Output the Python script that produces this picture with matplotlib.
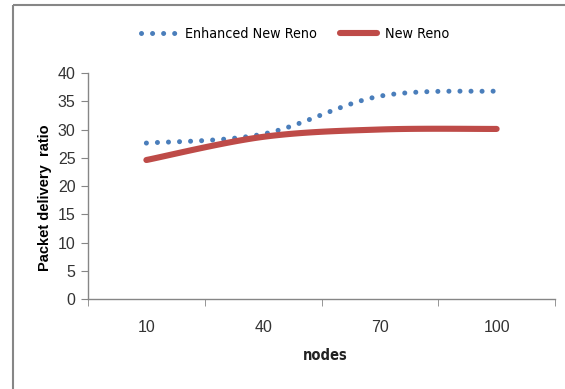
import numpy as np
import matplotlib.pyplot as plt
from matplotlib.lines import Line2D

nodes = ['10', '40', '70', '100']
enhanced = [27.6, 29.2, 35.9, 36.8]
new_reno = [24.6, 28.7, 30.0, 30.1]
y_ticks = [0, 5, 10, 15, 20, 25, 30, 35, 40]

blue = '#4A7EBB'
red = '#BE4B48'
grey = '#868686'


def smooth(xs, ys, n=40):
    # piecewise cubic bezier through every point, like a spreadsheet "smoothed line"
    xs = np.asarray(xs, float)
    ys = np.asarray(ys, float)
    px = np.concatenate([[xs[0]], xs, [xs[-1]]])
    py = np.concatenate([[ys[0]], ys, [ys[-1]]])
    out_x, out_y = [], []
    t = np.linspace(0, 1, n)
    for i in range(1, len(px) - 2):
        p0 = np.array([px[i], py[i]])
        p3 = np.array([px[i + 1], py[i + 1]])
        p1 = p0 + (np.array([px[i + 1], py[i + 1]]) - np.array([px[i - 1], py[i - 1]])) / 6
        p2 = p3 - (np.array([px[i + 2], py[i + 2]]) - np.array([px[i], py[i]])) / 6
        b = ((1 - t) ** 3)[:, None] * p0 + (3 * (1 - t) ** 2 * t)[:, None] * p1 \
            + (3 * (1 - t) * t ** 2)[:, None] * p2 + (t ** 3)[:, None] * p3
        out_x.extend(b[:, 0])
        out_y.extend(b[:, 1])
    return out_x, out_y


narrow_prop = dict(family='DejaVu Sans', stretch='condensed')
plain = ['Liberation Sans', 'DejaVu Sans']

fig = plt.figure(figsize=(5.65, 3.89), dpi=100)
ax = fig.add_axes([88 / 565, 1 - 299 / 389, (555 - 88) / 565, (299 - 73) / 389])

x = np.arange(len(nodes))
bx, by = smooth(x, enhanced)
rx, ry = smooth(x, new_reno)
dots = (0, (0.01, 2.2))
ax.plot(bx, by, color=blue, lw=3.6, linestyle=dots,
        dash_capstyle='round', solid_capstyle='round')
ax.plot(rx, ry, color=red, lw=4.4, solid_capstyle='round')

ax.set_xlim(-0.5, len(nodes) - 0.5)
ax.set_ylim(0, 40)
ax.set_yticks(y_ticks)
ax.set_xticks(x)
ax.set_xticklabels(nodes, family=plain, fontsize=11.5, color='#333333')
ax.set_xticks(np.arange(len(nodes) + 1) - 0.5, minor=True)
ax.tick_params(axis='x', which='major', length=0, pad=15)
ax.tick_params(axis='x', which='minor', length=5, color=grey, direction='out')
ax.tick_params(axis='y', length=5, color=grey, direction='out', pad=4)
for lab in ax.get_yticklabels():
    lab.set_family(plain)
    lab.set_fontsize(11.5)
    lab.set_color('#333333')

for s in ['top', 'right']:
    ax.spines[s].set_visible(False)
for s in ['left', 'bottom']:
    ax.spines[s].set_color(grey)
    ax.spines[s].set_linewidth(1)

fig.text(45 / 565, 1 - 198 / 389, 'Packet delivery  ratio', rotation=90,
         ha='center', va='center', fontsize=10.5, fontweight='bold', family=plain)
fig.text(325 / 565, 1 - 355 / 389, 'nodes', ha='center', va='center',
         fontsize=10.5, fontweight='bold', color='#222222', **narrow_prop)

handles = [
    Line2D([], [], color=blue, lw=3.6, linestyle=dots, dash_capstyle='round'),
    Line2D([], [], color=red, lw=4.4, solid_capstyle='round'),
]
leg = fig.legend(handles, ['Enhanced New Reno', 'New Reno'], loc='center',
                 bbox_to_anchor=(295 / 565, 1 - 34 / 389), ncol=2, frameon=False,
                 handlelength=2.6, handletextpad=0.5, columnspacing=1.6,
                 prop=dict(size=10.3, **narrow_prop))

# outer chart border (only top and left edges fall inside the frame)
fig.add_artist(Line2D([13 / 565, 13 / 565], [0, 1 - 5 / 389], color=grey, lw=1.5,
                      solid_capstyle='butt', transform=fig.transFigure))
fig.add_artist(Line2D([13 / 565, 1.0], [1 - 5 / 389, 1 - 5 / 389], color=grey, lw=1.5,
                      solid_capstyle='butt', transform=fig.transFigure))

fig.savefig('out.png', dpi=100)
